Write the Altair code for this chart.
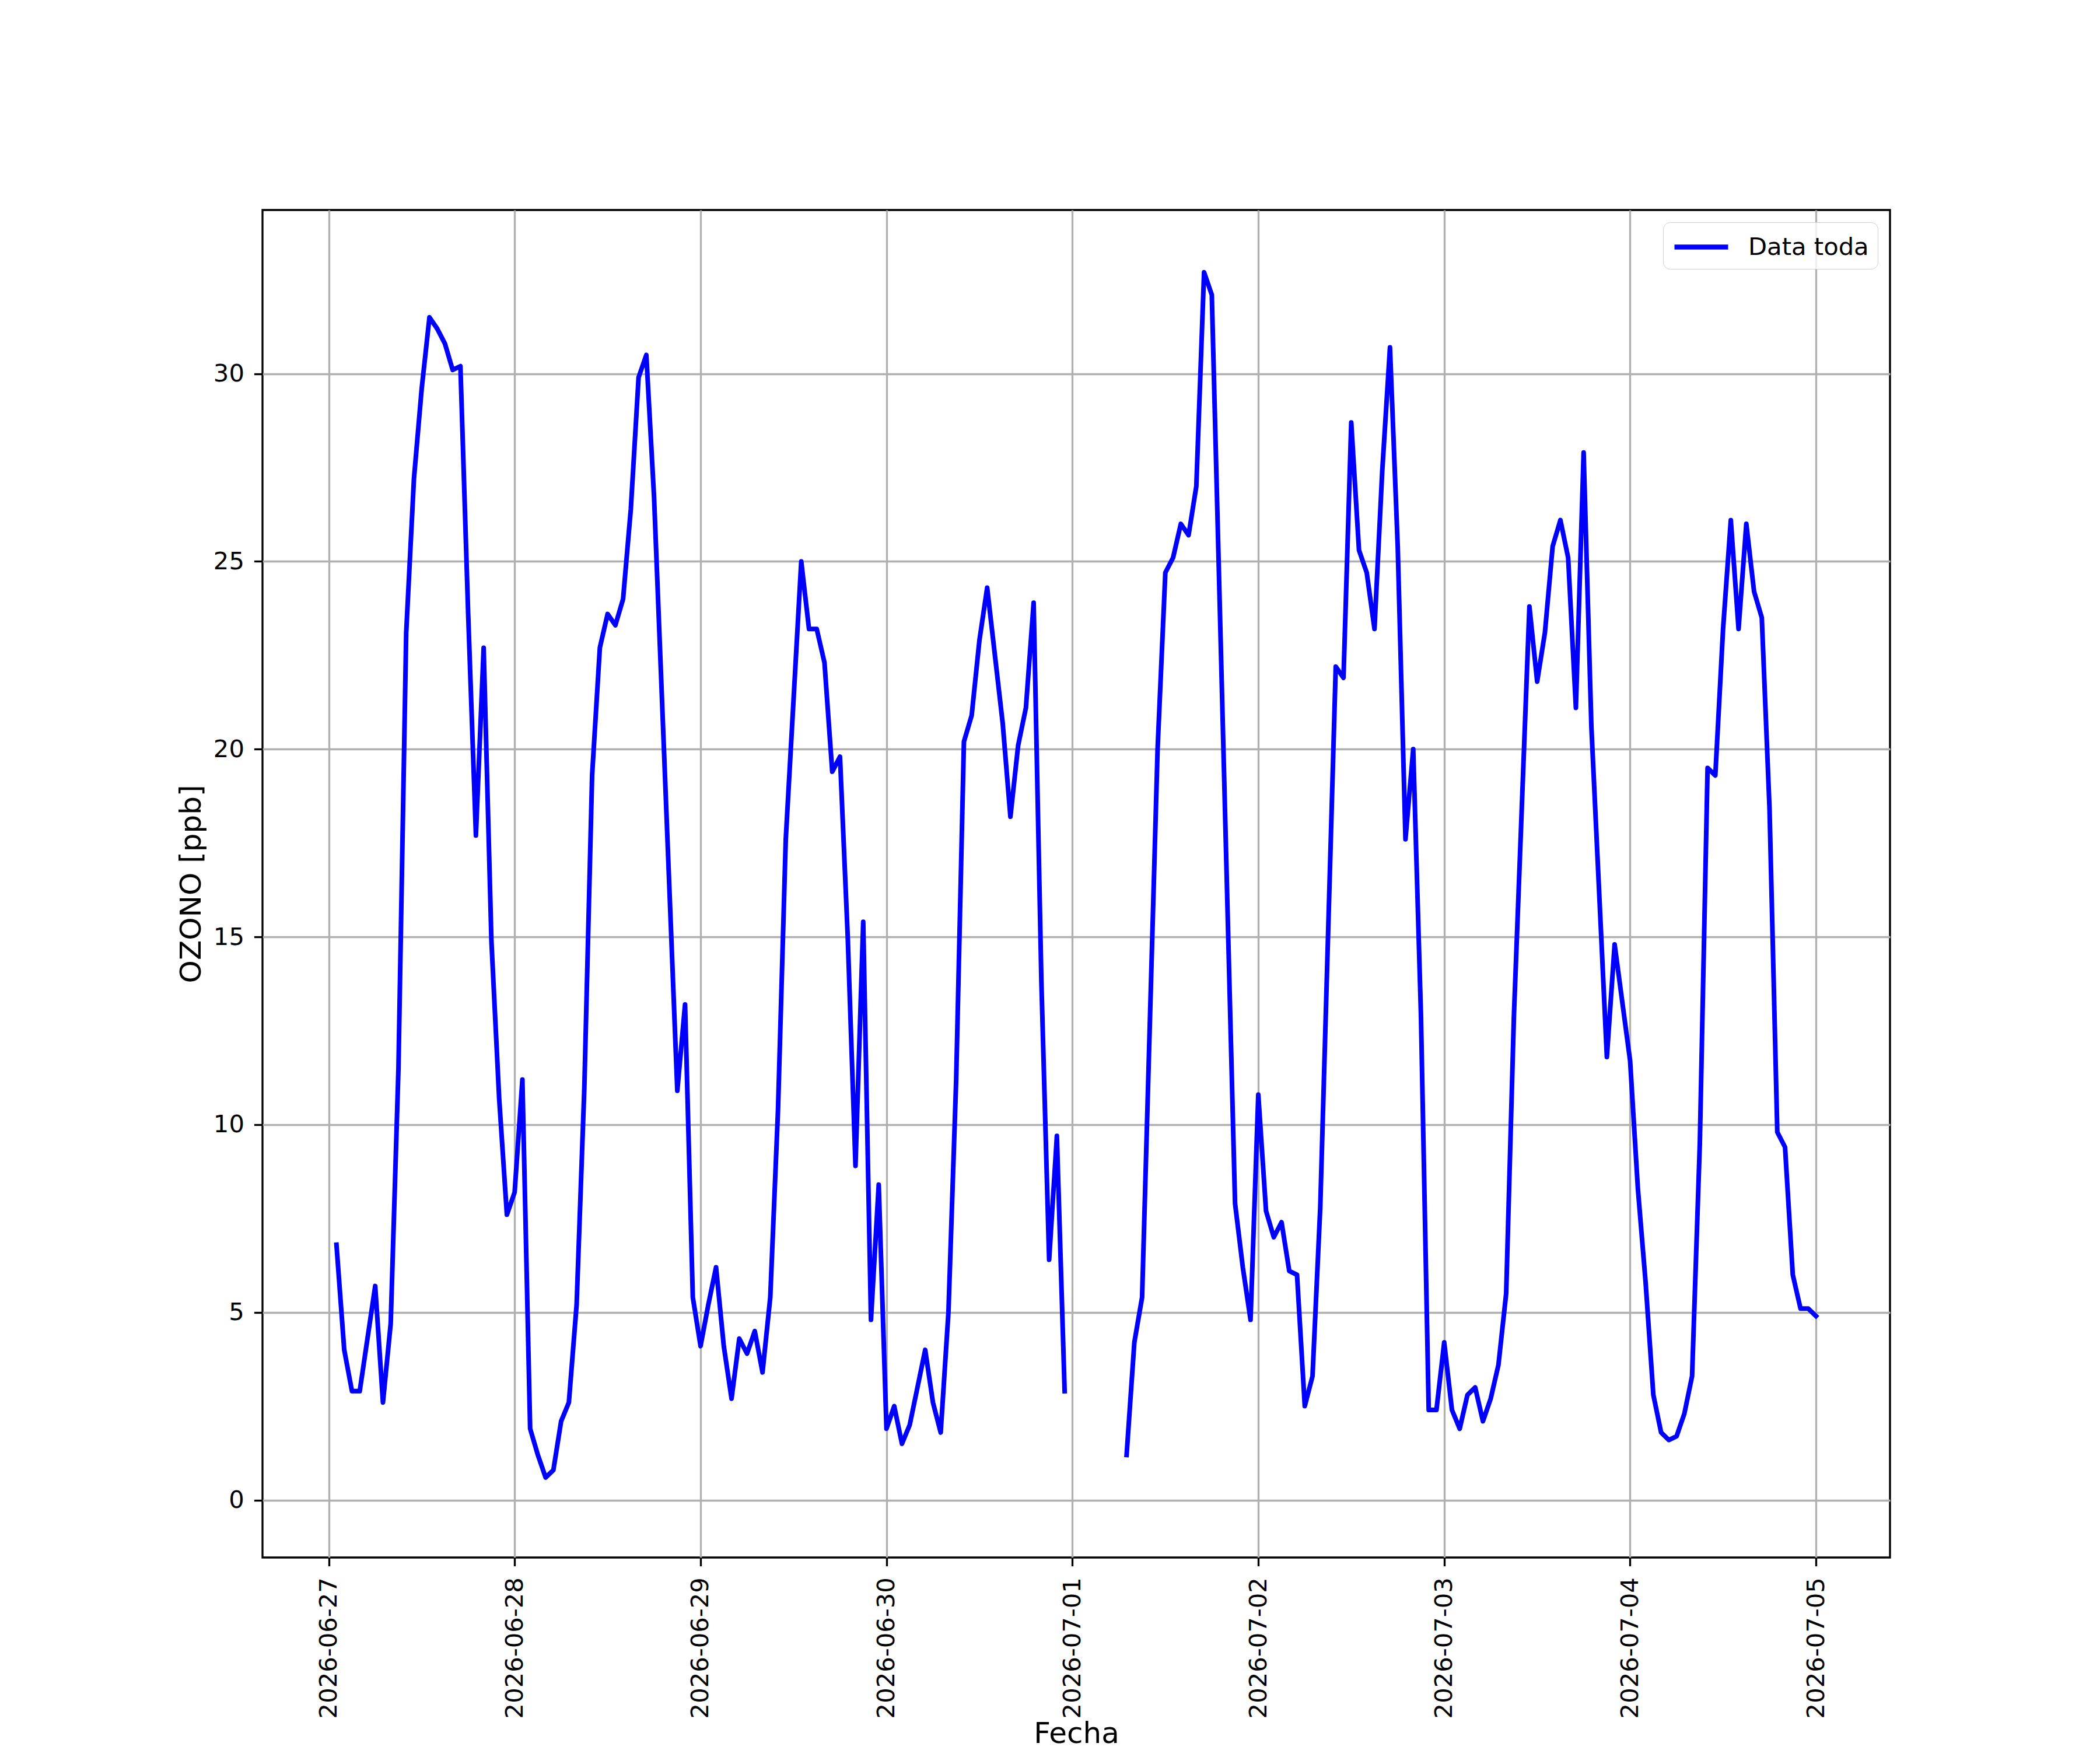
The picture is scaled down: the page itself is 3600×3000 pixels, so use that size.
import altair as alt
import pandas as pd

# Etiquetas del eje X (una por día, cada 24 h)
fechas = ["2026-06-27", "2026-06-28", "2026-06-29", "2026-06-30", "2026-07-01",
          "2026-07-02", "2026-07-03", "2026-07-04", "2026-07-05"]
ticks_horas = [0, 24, 48, 72, 96, 120, 144, 168, 192]
ticks_ozono = [0, 5, 10, 15, 20, 25, 30]

# Horas desde 2026-06-27 00:00 y ozono [ppb], tramo 1 (antes del hueco)
horas_1 = [1, 2, 3, 4, 6, 7, 8, 9, 10, 11, 12, 13, 14, 15, 16, 17, 18, 19, 20, 21,
           22, 23, 24, 25, 26, 27, 28, 29, 30, 31, 32, 33, 34, 35, 36, 37, 38, 39, 40,
           41, 42, 45, 46, 47, 48, 49, 50, 51, 52, 53, 54, 55, 56, 57, 58, 59, 61, 62,
           63, 64, 65, 66, 67, 68, 69, 70, 71, 72, 73, 74, 75, 76, 77, 78, 79, 80, 81,
           82, 83, 84, 85, 87, 88, 89, 90, 91, 92, 93, 94, 95]
ozono_1 = [6.8, 4.0, 2.9, 2.9, 5.7, 2.6, 4.7, 11.5, 23.1, 27.2, 29.6, 31.5, 31.2, 30.8,
           30.1, 30.2, 23.6, 17.7, 22.7, 14.9, 10.7, 7.6, 8.2, 11.2, 1.9, 1.2, 0.6, 0.8,
           2.1, 2.6, 5.2, 11.0, 19.3, 22.7, 23.6, 23.3, 24.0, 26.4, 29.9, 30.5, 26.7,
           10.9, 13.2, 5.4, 4.1, 5.2, 6.2, 4.1, 2.7, 4.3, 3.9, 4.5, 3.4, 5.4, 10.4,
           17.6, 25.0, 23.2, 23.2, 22.3, 19.4, 19.8, 15.0, 8.9, 15.4, 4.8, 8.4, 1.9,
           2.5, 1.5, 2.0, 3.0, 4.0, 2.6, 1.8, 5.0, 11.2, 20.2, 20.9, 22.9, 24.3, 20.7,
           18.2, 20.1, 21.1, 23.9, 13.8, 6.4, 9.7, 2.9]

# Tramo 2 (después del hueco del 2026-07-01)
horas_2 = [103, 104, 105, 107, 108, 109, 110, 111, 112, 113, 114, 117, 118, 119, 120,
           121, 122, 123, 124, 125, 126, 127, 128, 130, 131, 132, 133, 134, 135, 136,
           137, 138, 139, 140, 141, 142, 143, 144, 145, 146, 147, 148, 149, 150, 151,
           152, 153, 155, 156, 157, 158, 159, 160, 161, 162, 163, 165, 166, 168, 169,
           170, 171, 172, 173, 174, 175, 176, 177, 178, 179, 180, 181, 182, 183, 184,
           185, 186, 187, 188, 189, 190, 191, 192]
ozono_2 = [1.2, 4.2, 5.4, 20.0, 24.7, 25.1, 26.0, 25.7, 27.0, 32.7, 32.1, 7.9, 6.2, 4.8,
           10.8, 7.7, 7.0, 7.4, 6.1, 6.0, 2.5, 3.3, 7.8, 22.2, 21.9, 28.7, 25.3, 24.7,
           23.2, 27.4, 30.7, 25.4, 17.6, 20.0, 12.9, 2.4, 2.4, 4.2, 2.4, 1.9, 2.8, 3.0,
           2.1, 2.7, 3.6, 5.5, 12.9, 23.8, 21.8, 23.1, 25.4, 26.1, 25.1, 21.1, 27.9,
           20.6, 11.8, 14.8, 11.7, 8.3, 5.8, 2.8, 1.8, 1.6, 1.7, 2.3, 3.3, 9.5, 19.5,
           19.3, 23.2, 26.1, 23.2, 26.0, 24.2, 23.5, 18.4, 9.8, 9.4, 6.0, 5.1, 5.1, 4.9]

serie = "Data toda"

df = pd.concat([
    pd.DataFrame({"hora": horas_1, "ozono": ozono_1, "tramo": "1"}),
    pd.DataFrame({"hora": horas_2, "ozono": ozono_2, "tramo": "2"}),
], ignore_index=True)
df["serie"] = serie

label_expr = "[" + ",".join("'%s'" % f for f in fechas) + "][round(datum.value/24)]"

FONT = "DejaVu Sans"

chart = alt.Chart(df).mark_line(
    strokeWidth=8.0, strokeJoin="round", strokeCap="square"
).encode(
    x=alt.X("hora:Q",
            scale=alt.Scale(domain=[-8.55, 201.55], nice=False, zero=False),
            axis=alt.Axis(values=ticks_horas, labelExpr=label_expr, labelAngle=270,
                          labelLimit=0, title="Fecha", labelPadding=19,
                          titleY=277, titleBaseline="top")),
    y=alt.Y("ozono:Q",
            scale=alt.Scale(domain=[-1.53, 34.36], nice=False, zero=False),
            axis=alt.Axis(values=ticks_ozono, format="d", title="OZONO [ppb]",
                          labelPadding=17, titlePadding=12)),
    color=alt.Color("serie:N",
                    scale=alt.Scale(domain=[serie], range=["#0000ff"]),
                    legend=alt.Legend(title=None, orient="top-right", offset=21,
                                      symbolType="M-2,0H2", symbolStrokeWidth=8.33,
                                      symbolSize=2116, symbolOffset=23,
                                      labelFontSize=41.7,
                                      labelFont=FONT, labelColor="black",
                                      labelLimit=0, labelOffset=53, padding=15,
                                      rowPadding=0,
                                      strokeColor="#d0d0d0",
                                      fillColor="rgba(255,255,255,0.8)",
                                      cornerRadius=12)),
    detail="tramo:N",
).properties(
    width=2790, height=2310,
    background="white",
    padding={"left": 442, "top": 352, "right": 352, "bottom": 330},
    autosize=alt.AutoSizeParams(type="none"),
).configure_view(
    stroke="black", strokeWidth=3.33
).configure_axis(
    labelFont=FONT, labelFontSize=41.7, labelColor="black",
    titleFont=FONT, titleFontSize=50, titleFontWeight="normal", titleColor="black",
    grid=True, gridColor="#b0b0b0", gridWidth=3.33, gridOpacity=1,
    domain=False, tickColor="black", tickWidth=3.33, tickSize=14.6,
)

chart.save("out.html", embed_options={"renderer": "svg", "actions": False})
